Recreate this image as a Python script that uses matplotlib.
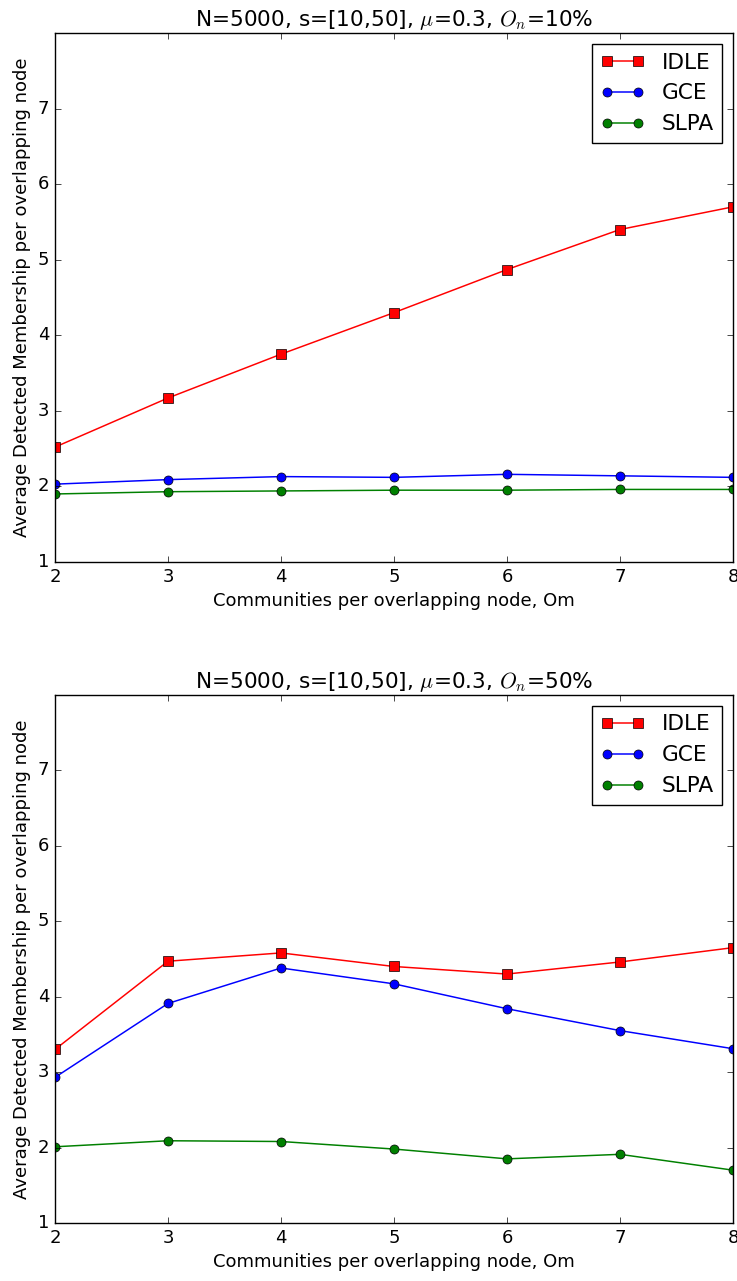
import matplotlib
matplotlib.use("Agg")
import matplotlib.pyplot as plt

plt.style.use("classic")
plt.rcParams["font.size"] = 13
plt.rcParams["lines.markersize"] = 6.5
plt.rcParams["lines.linewidth"] = 1.08

om = [2, 3, 4, 5, 6, 7, 8]

# On = 10%
idle_10 = [2.52, 3.17, 3.75, 4.30, 4.87, 5.40, 5.70]
gce_10 = [2.03, 2.09, 2.13, 2.12, 2.16, 2.14, 2.12]
slpa_10 = [1.90, 1.93, 1.94, 1.95, 1.95, 1.96, 1.96]

# On = 50%
idle_50 = [3.30, 4.47, 4.58, 4.40, 4.30, 4.46, 4.65]
gce_50 = [2.93, 3.91, 4.38, 4.17, 3.84, 3.55, 3.31]
slpa_50 = [2.01, 2.09, 2.08, 1.98, 1.85, 1.91, 1.70]

panels = [
    ("10%", idle_10, gce_10, slpa_10),
    ("50%", idle_50, gce_50, slpa_50),
]

fig = plt.figure(figsize=(7.37, 12.81), dpi=100, facecolor="white")
boxes = [
    [0.0746, 0.5613, 0.92, 0.4129],
    [0.0746, 0.0453, 0.92, 0.4122],
]

for box, (on, idle, gce, slpa) in zip(boxes, panels):
    ax = fig.add_axes(box)
    ax.plot(om, idle, "r-s", label="IDLE")
    ax.plot(om, gce, "b-o", label="GCE")
    ax.plot(om, slpa, "g-o", label="SLPA")
    ax.set_xlim(2, 8)
    ax.set_ylim(1, 8)
    ax.set_yticks([1, 2, 3, 4, 5, 6, 7])
    ax.set_xlabel("Communities per overlapping node, Om")
    ax.set_ylabel("Average Detected Membership per overlapping node")
    ax.set_title(r"N=5000, s=[10,50], $\mu$=0.3, $O_n$=" + on)
    ax.legend(loc="upper right")

fig.savefig("out.png", dpi=100, facecolor="white")
